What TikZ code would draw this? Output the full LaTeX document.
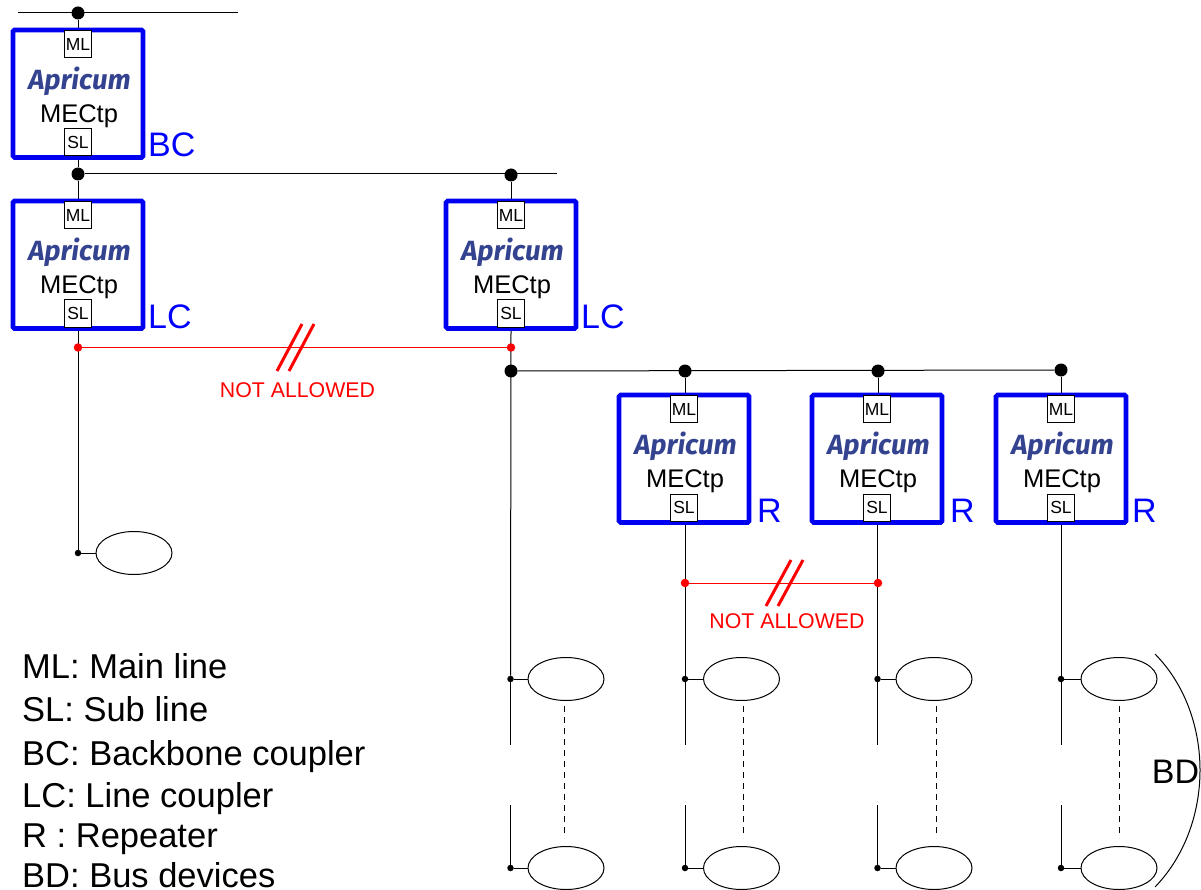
\documentclass[tikz,border=0pt]{standalone}
\usepackage{fontspec}
\setmainfont{Liberation Sans}
\newfontfamily\logofont{Fira Sans}
\usetikzlibrary{shapes.geometric,calc}
\definecolor{logoblue}{HTML}{34438F}
\definecolor{tagblue}{HTML}{0000F0}
\definecolor{warnred}{HTML}{FF0000}
\pgfdeclarelayer{front}
\pgfsetlayers{main,front}
\tikzset{
  unitbox/.style={draw=tagblue,line width=4.6pt,rounded corners=1.5pt,outer sep=0pt,minimum width=130pt,minimum height=127.5pt,inner sep=0pt,anchor=north},
  porttag/.style={draw=black,fill=white,line width=1pt,minimum width=27pt,minimum height=27pt,inner sep=0pt,font=\fontsize{17.5}{18}\selectfont},
  logotext/.style={text=logoblue,inner sep=0pt,font=\logofont\fontsize{27.8}{28}\selectfont\bfseries\itshape},
  modeltext/.style={inner sep=0pt,font=\fontsize{25.5}{27}\selectfont},
  rolelabel/.style={text=blue,inner sep=0pt,anchor=base west,font=\fontsize{34}{36}\selectfont},
  legendtext/.style={inner sep=0pt,anchor=base west,font=\fontsize{34.5}{36}\selectfont},
  warntext/.style={text=warnred,inner sep=0pt,font=\fontsize{21.3}{23}\selectfont},
  device/.style={draw=black,fill=white,line width=1pt,ellipse,minimum width=76pt,minimum height=43pt,inner sep=0pt},
  wire/.style={draw=black,line width=1pt},
  redwire/.style={draw=warnred,line width=1pt},
  slash/.style={draw=warnred,line width=3pt},
  bigdot/.style={circle,fill=black,minimum size=13pt,inner sep=0pt},
  smalldot/.style={circle,fill=black,minimum size=6.5pt,inner sep=0pt},
  reddot/.style={circle,fill=warnred,minimum size=8.5pt,inner sep=0pt},
  ladder/.style={draw=black,line width=1pt,dash pattern=on 6pt off 5pt},
}
\newcommand{\mecunit}[5]{% name, cx, top, label, label dx
  \node[unitbox] (#1) at (#2,#3) {};
  \node[porttag] (#1ml) at (#2,#3+14) {ML};
  \node[porttag] (#1sl) at (#2,#3+112.5) {SL};
  \node[logotext] (#1logo) at (#2+1.5,#3+51) {Apricum};
  \node[modeltext] (#1model) at (#2+1,#3+86) {MECtp};
  \node[rolelabel] (#1role) at (#2+#5,#3+127) {#4};
}
\begin{document}
\begin{tikzpicture}[x=1pt,y=-1pt]
\useasboundingbox (0,0) rectangle (1201,890);
\clip (0,0) rectangle (1201,890);
\begin{pgfonlayer}{front}
% units
\mecunit{ubc}{78}{30}{BC}{70}
\mecunit{ulca}{78}{201}{LC}{70}
\mecunit{ulcb}{511}{201}{LC}{70}
\mecunit{ura}{684}{395}{R}{73}
\mecunit{urb}{877}{395}{R}{73}
\mecunit{urc}{1061}{395}{R}{71}
% junctions
\node[bigdot] (topd) at (78,13) {};
\node[bigdot] (bbd) at (78,174) {};
\node[bigdot] (bbe) at (511,175) {};
\node[reddot] (ja) at (78,347.5) {};
\node[reddot] (jb) at (511,347.5) {};
\node[bigdot] (lb) at (511,371) {};
\node[bigdot] (l1) at (685,371) {};
\node[bigdot] (l2) at (878,371) {};
\node[bigdot] (l3) at (1061,370) {};
\node[reddot] (jc) at (685,583) {};
\node[reddot] (jd) at (878,583) {};
% devices
\node[device] (dev0) at (134,553) {};
\node[smalldot] (s0) at (78,553) {};
\foreach \n/\x/\e in {a/510.5/566,b/685/741.5,c/877.5/934,d/1061/1119}{
  \node[device] (\n t) at (\e,679) {};
  \node[device] (\n b) at (\e,868) {};
  \node[smalldot] (\n ts) at (\x,679) {};
  \node[smalldot] (\n bs) at (\x,868) {};
}
% red
\draw[slash] (277,371) -- (302,324);
\draw[slash] (289,371) -- (314,324);
\draw[slash] (766,606) -- (791,560);
\draw[slash] (778,606) -- (803,560);
\end{pgfonlayer}
\coordinate (topl) at (18,13);
\coordinate (topr) at (238,13);
\coordinate (bbr) at (557,174);
% wires
\draw[wire] (topl) -- (topr);
\draw[wire] (topd) -- (ubc.north);
\draw[wire] (ubc.south) -- (bbd);
\draw[wire] (bbd) -- (ulca.north);
\draw[wire] (bbd) -- (bbr);
\draw[wire] (bbe) -- (ulcb.north);
\draw[wire] (lb) -- (l3);
\draw[wire] (l1) -- (l1 |- ura.north);
\draw[wire] (l2) -- (l2 |- urb.north);
\draw[wire] (l3) -- (urc.north);
\draw[wire] (ulca.south) -- (s0);
\draw[wire] (s0) -- (dev0);
\foreach \n/\dashx in {a/564,b/743,c/936,d/1119}{
  \draw[wire] (\n ts) -- (\n t);
  \draw[wire] (\n bs) -- (\n b);
  \coordinate (\n g) at ($(\n ts)+(0,66)$);
  \coordinate (\n h) at ($(\n bs)+(0,-63)$);
  \draw[wire] (\n ts) -- (\n g);
  \draw[wire] (\n h) -- (\n bs);
  \coordinate (\n u) at (\dashx,706);
  \coordinate (\n v) at (\dashx,838);
  \draw[ladder] (\n u) -- (\n v);
}
\draw[wire] (ulcb.south) -- (ats);
\draw[wire] (ura.south -| bts) -- (bts);
\draw[wire] (urb.south -| cts) -- (cts);
\draw[wire] (urc.south) -- (dts);
\draw[redwire] (ja) -- (jb);
\draw[redwire] (jc) -- (jd);
\node[warntext] (na1) at (297.5,390.5) {NOT ALLOWED};
\node[warntext] (na2) at (787,621.5) {NOT ALLOWED};
% legend
\node[legendtext] (k1) at (22,678) {ML: Main line};
\node[legendtext] (k2) at (22,721) {SL: Sub line};
\node[legendtext] (k3) at (22,765) {BC: Backbone coupler};
\node[legendtext] (k4) at (22,807) {LC: Line coupler};
\node[legendtext] (k5) at (22,847) {R : Repeater};
\node[legendtext] (k6) at (22,887) {BD: Bus devices};
% BD brace
\coordinate (ba) at (1155,654);
\coordinate (bb) at (1155,887);
\draw[wire] (ba) .. controls (1215,715) and (1215,825) .. (bb);
\node[inner sep=0pt,font=\fontsize{34}{36}\selectfont] (bdl) at (1175.5,772) {BD};
\end{tikzpicture}
\end{document}
